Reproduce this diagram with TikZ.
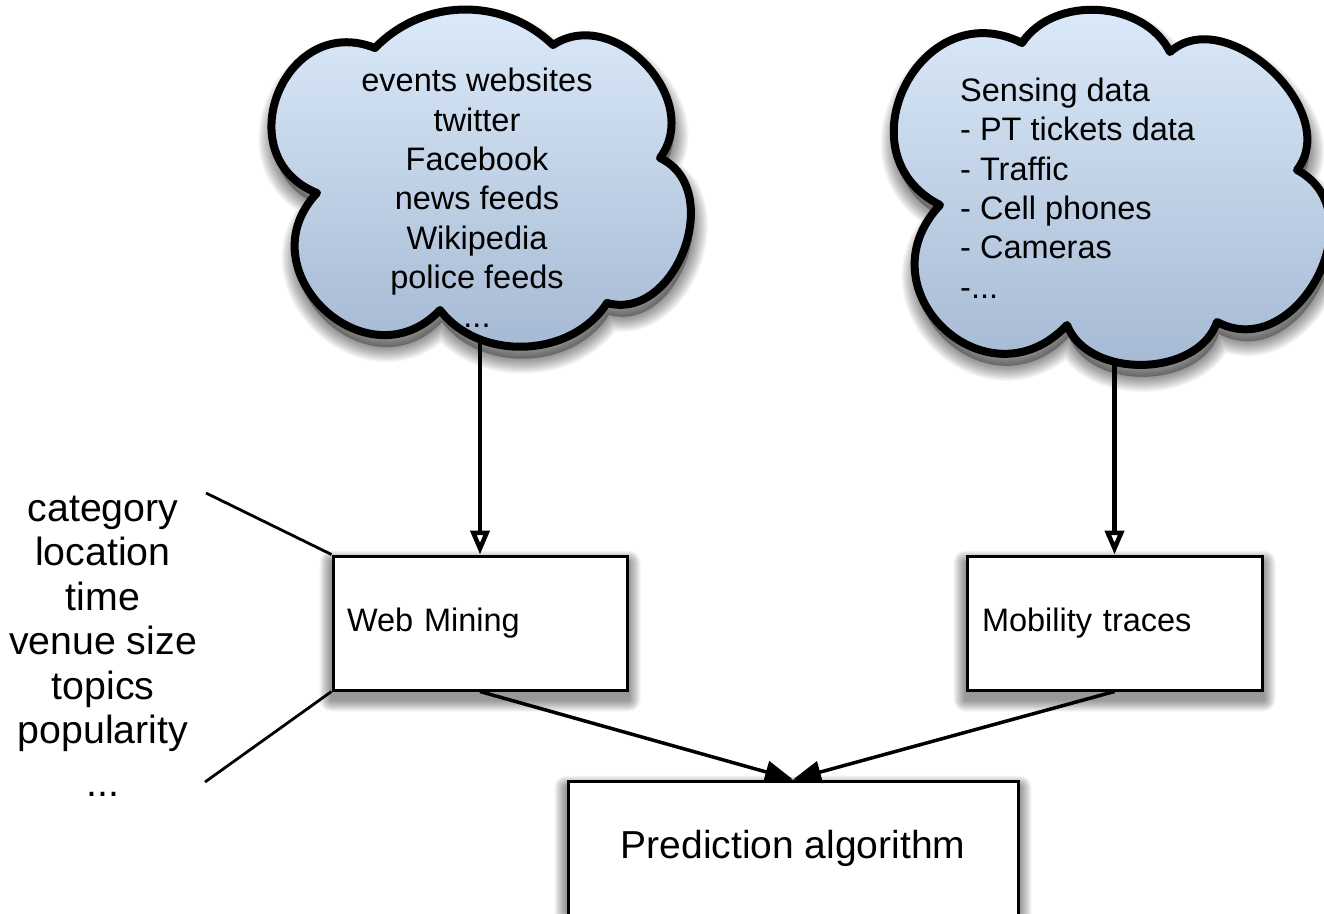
\documentclass[tikz,border=0pt]{standalone}
\usepackage{fontspec}
\setmainfont{Liberation Sans}
\usetikzlibrary{arrows.meta,backgrounds}
\definecolor{cloudtop}{RGB}{221,236,251}
\definecolor{cloudbot}{RGB}{160,180,207}
\def\lcloudpath{(317,193) to[bend left=90,looseness=1.6] (375,48) to[bend left=45] (553,45) to[bend left=80,looseness=1.2] (660,158) to[bend left=85,looseness=1.2] (607,303) to[bend left=55] (440,310) to[bend left=90,looseness=1.6] (317,193) -- cycle}
\def\rcloudpath{(940,205) to[bend left=90,looseness=1.6] (1022,43) to[bend left=60] (1170,52) to[bend left=85,looseness=1.1] (1297,170) to[bend left=90,looseness=1.35] (1217,322) to[bend left=70] (1067,325) to[bend left=90,looseness=1.7] (940,205) -- cycle}
\tikzset{
  cloudline/.style={draw=black, line width=8pt, line join=round},
  box/.style={draw=black, fill=white, line width=3pt, rectangle, minimum height=134pt, inner ysep=0pt},
  cloudtxt/.style={font=\fontsize{32.5pt}{39.3pt}\selectfont, inner sep=0pt},
  boxtxt/.style={font=\fontsize{32.5pt}{39.3pt}\selectfont},
  predtxt/.style={font=\fontsize{39pt}{47pt}\selectfont},
  labtxt/.style={font=\fontsize{39.3pt}{44.5pt}\selectfont, inner sep=0pt},
  varrow/.style={line width=4.5pt, -{Triangle[open,length=24pt,width=19pt]}},
  darrow/.style={line width=3.5pt, -{Triangle[length=28pt,width=22pt]}},
  labline/.style={line width=2.8pt}
}
\begin{document}
\begin{tikzpicture}[x=1pt,y=-1pt]
\begin{pgfonlayer}{background}
\fill[white] (0,0) rectangle (1324,913);
\end{pgfonlayer}
\useasboundingbox (0,0) rectangle (1324,913);
% cloud shadows
\foreach \k in {1,...,12} {
  \draw[black, opacity=0.04, line width={2.5pt*\k}, line join=round, shift={(2,12)}] \lcloudpath;
  \draw[black, opacity=0.04, line width={2.5pt*\k}, line join=round, shift={(2,12)}] \rcloudpath;
}
\fill[black, opacity=0.3, shift={(2,12)}] \lcloudpath;
\fill[black, opacity=0.3, shift={(2,12)}] \rcloudpath;
% clouds
\shade[top color=cloudtop, bottom color=cloudbot] \lcloudpath;
\draw[cloudline] \lcloudpath;
\shade[top color=cloudtop, bottom color=cloudbot] \rcloudpath;
\draw[cloudline] \rcloudpath;
% cloud texts
\node[cloudtxt, align=center] (websrc) at (477,198) {events websites\\twitter\\Facebook\\news feeds\\Wikipedia\\police feeds\\...};
\node[cloudtxt, align=left, anchor=west] (sensing) at (960,188) {Sensing data\\- PT tickets data\\- Traffic\\- Cell phones\\- Cameras\\-...};
% boxes
\node[box, boxtxt, minimum width=294pt, inner xsep=14pt, text width=266pt, align=left] (web) at (480,623) {Web Mining};
\node[box, boxtxt, minimum width=295pt, inner xsep=15pt, text width=265pt, align=left] (mob) at (1114.5,623) {Mobility traces};
\node[box, predtxt, minimum width=450pt] (pred) at (793,848) {Prediction algorithm};
% feature labels
\node[labtxt, align=center] (feat) at (103,646) {category\\location\\time\\venue size\\topics\\popularity\\[8pt]...};
% box shadows
\begin{pgfonlayer}{background}
\foreach \n in {web,mob,pred} {
  \foreach \k in {1,...,12} {
    \fill[black, opacity=0.04, rounded corners={\k pt}] ([shift={(-\k,8-\k)}]\n.north west) rectangle ([shift={(\k,8+\k)}]\n.south east);
  }
}
\end{pgfonlayer}
% connectors
\coordinate (lsrc) at (480,343);
\coordinate (rsrc) at (1114.5,362);
\coordinate (ftop) at (206,493);
\coordinate (fbot) at (205,782);
\draw[varrow] (lsrc) -- (web.north);
\draw[varrow] (rsrc) -- (mob.north);
\draw[darrow] (web.south) -- (pred.north);
\draw[darrow] (mob.south) -- (pred.north);
\draw[labline] (ftop) -- (web.north west);
\draw[labline] (fbot) -- (web.south west);
\end{tikzpicture}
\end{document}
